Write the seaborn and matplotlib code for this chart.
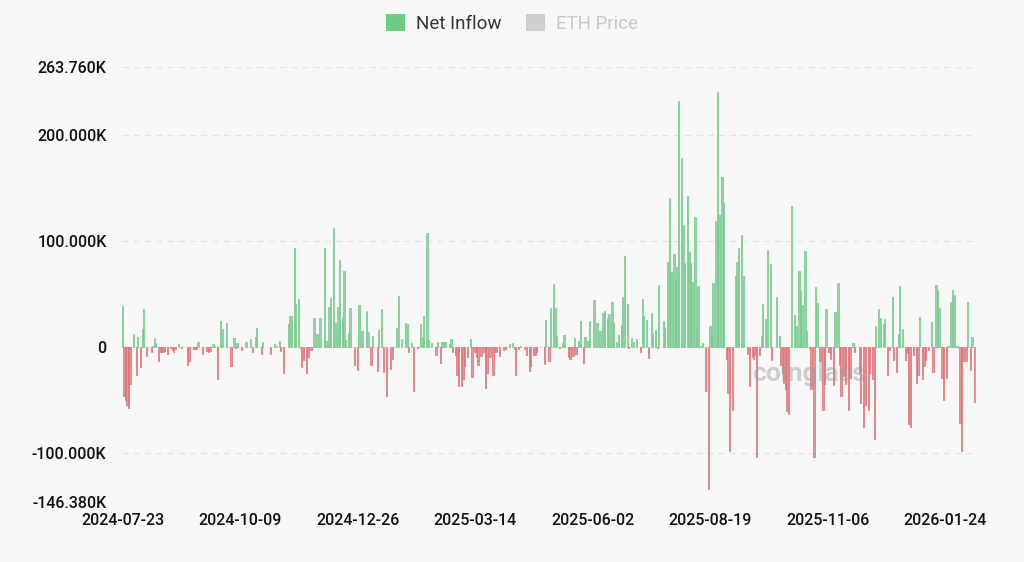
import numpy as np
import pandas as pd
import seaborn as sns
import matplotlib.pyplot as plt
from matplotlib.patches import Patch

# Net inflow (thousands), keyed by day offset from 2024-07-23; days not listed are 0
seg1_days = [0, 1, 2, 3, 4, 5, 7, 9, 10, 12, 13, 14, 16, 19, 20, 21, 22, 24, 25, 26, 27, 28,
             30, 32, 33, 34, 35, 37, 39, 43, 44, 47, 48, 49, 50, 53, 56, 57, 58, 60, 61, 63, 65, 66]
seg1_vals = [38, -47, -50, -55, -58, -35, 12, -27, 9, -19, 17, 35, -9, -5, 1, 8, 3, -14, -5, -5, -5, -4,
             -7, -1, -3, -5, -2, 2, -1, -17, -14, -2, -2, -2, 4, -7, -4, -5, -4, 2, 1, -31, 24, 17]

seg2_days = [69, 72, 74, 75, 76, 79, 82, 85, 86, 88, 89, 92, 93, 98, 101, 102, 104, 105, 107, 110,
             111, 112, 114, 115, 117, 118, 119, 120, 122, 123, 125, 127, 129, 131, 134, 135, 137, 138, 140]
seg2_vals = [22, -18, 8, -1, 3, -3, 4, 7, -5, 9, 18, -7, 4, -7, 2, 1, 5, -4, -25, 21,
             29, 29, 93, 40, 45, -1, -19, -13, -25, -10, -3, 27, 12, 27, 93, 5, 37, 46, 112]

seg3_days = [141, 143, 144, 146, 147, 148, 150, 151, 154, 156, 157, 159, 162, 163, 165, 166, 169, 170,
             172, 173, 175, 178, 179, 182, 183, 185, 188, 189, 190, 192, 193, 196, 198, 199, 200, 202,
             203, 205, 208, 209, 211, 212, 213]
seg3_vals = [22, 37, 82, 28, 71, 6, 13, 36, -17, -22, 39, 15, 34, 14, -17, 10, -23, 16,
             35, -24, -47, -21, -12, 18, 48, 7, 22, 21, -5, 3, -42, -1, 21, 9, 29, 107,
             6, 3, -8, 4, -15, 4, 4]

seg4_days = [214, 217, 218, 219, 221, 222, 223, 225, 226, 227, 229, 231, 232, 234, 235, 236, 238, 240,
             241, 242, 244, 246, 247, 248, 250, 253, 254, 257, 259, 260, 261, 263, 264, 267, 268, 270,
             271, 273, 274, 275, 280, 281, 283, 284, 286]
seg4_vals = [4, 2, 7, -5, -8, -27, -37, -37, -31, -18, -10, 7, -29, -5, -10, -17, -9, -5,
             -39, -25, -10, -27, -5, -5, -9, -3, -2, 2, 3, -2, -27, -2, 1, -2, -8, -23,
             -18, -8, -8, -5, -16, 25, -14, 36, 59]

seg5_days = [287, 288, 290, 292, 293, 296, 297, 299, 300, 301, 303, 304, 306, 307, 309, 310, 313, 315,
             317, 319, 320, 322, 323, 325, 326, 328, 329, 331, 332, 333, 335, 336, 338, 339, 341, 344,
             345, 346, 348, 349, 351, 352, 354, 355, 356, 359]
seg5_vals = [36, 10, -1, 3, 11, -10, -12, -9, 8, -7, 5, 24, -15, 9, 5, 24, 44, 22,
             15, 32, 34, 27, 31, 42, 22, 4, 11, 20, 47, 85, 40, -1, 8, 4, 7, -5,
             45, 29, 25, -11, 32, 13, 16, -1, 58, 24]

seg6_days = [360, 362, 363, 364, 366, 367, 368, 369, 371, 372, 373, 375, 376, 377, 378, 380, 381, 382,
             384, 385, 387, 389, 390, 391, 392, 394, 395, 396, 398, 399, 401, 402, 403, 405, 407, 408,
             409, 411, 412, 415, 416, 418, 419, 420, 421, 423, 424, 425, 427, 428, 430, 431]
seg6_vals = [18, 80, 140, 70, 87, 63, 75, 232, 178, 115, 79, 142, 89, 79, 61, 122, 17, 57,
             1, 3, -42, -134, 19, 9, 60, 118, 240, 124, 160, 135, -12, -44, -98, -60, 67, 80,
             93, 105, 67, -7, -37, -10, -12, -8, -104, -8, 10, 40, 26, 91, 78, -13]

seg7_days = [434, 436, 437, 438, 439, 440, 441, 442, 444, 446, 447, 449, 450, 451, 453, 454, 456, 457,
             459, 460, 461, 463, 465, 466, 467, 469, 470, 472, 473, 475, 476, 477, 479, 480, 482, 483,
             485, 486, 489, 490, 492, 493, 495, 496, 498, 499, 500, 502, 503, 505]
seg7_vals = [47, 10, -17, -25, -34, -40, -61, -64, 133, 30, 19, 71, 52, 39, 90, 15, -1, -40,
             -104, 56, 41, -14, -60, -35, 35, -5, -12, -36, 33, 60, -17, -47, -28, -35, -60, -30,
             3, -5, -25, -53, -76, -55, -60, -25, -31, -87, 19, 35, 27, 21]

seg8_days = [506, 508, 509, 511, 512, 514, 515, 516, 518, 520, 521, 522, 523, 525, 527, 528, 529, 531,
             532, 533, 535, 537, 538, 540, 541, 542, 544, 545, 547, 548, 550, 551, 552, 554, 556, 557,
             558, 560, 561, 563, 564, 566]
seg8_vals = [26, -27, -3, 47, -13, -24, 12, 57, 17, -13, -6, -73, -76, -8, -34, -27, 28, -31,
             -18, -13, -3, 23, -24, 58, 53, 36, -30, -50, -30, 1, 42, 53, 49, 1, -72, -98,
             -14, -14, 42, -22, 9, -52]

n_days = 567
tick_every = 78
tick_labels = ["2024-07-23", "2024-10-09", "2024-12-26", "2025-03-14",
               "2025-06-02", "2025-08-19", "2025-11-06", "2026-01-24"]
y_ticks = [-146.38, -100, 0, 100, 200, 263.76]
y_tick_labels = ["-146.380K", "-100.000K", "0", "100.000K", "200.000K", "263.760K"]

GREEN = "#8fd9a5"
GREEN_EDGE = "#6fcc88"
RED = "#ef8a8f"
RED_EDGE = "#e26a70"
BG = "#f8f8f8"


def build_frame():
    flows = np.zeros(n_days)
    segments = [(seg1_days, seg1_vals), (seg2_days, seg2_vals), (seg3_days, seg3_vals),
                (seg4_days, seg4_vals), (seg5_days, seg5_vals), (seg6_days, seg6_vals),
                (seg7_days, seg7_vals), (seg8_days, seg8_vals)]
    for days, vals in segments:
        flows[days] = vals
    df = pd.DataFrame({"day": np.arange(n_days), "flow": flows})
    df["side"] = np.where(df["flow"] < 0, "out", "in")
    return df


def main():
    df = build_frame()
    sns.set_theme(style="white")
    plt.rcParams["font.family"] = ["Roboto", "DejaVu Sans"]

    fig = plt.figure(figsize=(10.24, 5.62), dpi=100, facecolor=BG)
    ax = fig.add_axes([0.119, 0.107, 0.834, 0.774], facecolor=BG)

    ax.grid(axis="y", color="#e4e4e4", linestyle=(0, (5, 4)), linewidth=0.9, zorder=0)
    sns.barplot(data=df, x="day", y="flow", hue="side", hue_order=["in", "out"],
                palette={"in": GREEN, "out": RED}, dodge=False, width=0.85,
                linewidth=0, legend=False, ax=ax, zorder=3)
    # darker outline like the original bars
    for bar in ax.patches:
        h = bar.get_height()
        if h == 0:
            continue
        bar.set_edgecolor(GREEN_EDGE if h > 0 else RED_EDGE)
        bar.set_linewidth(0.5)

    ax.set_ylim(y_ticks[0], y_ticks[-1])
    ax.set_xlim(-0.5, n_days - 0.5)
    ax.set_yticks(y_ticks)
    ax.set_yticklabels(y_tick_labels, fontsize=11.5, color="#111111", fontweight="medium")
    ax.set_xticks(np.arange(0, n_days, tick_every)[:len(tick_labels)])
    ax.set_xticklabels(tick_labels, fontsize=11.5, color="#111111", fontweight="medium")
    ax.tick_params(axis="y", length=0, pad=11)
    ax.tick_params(axis="x", length=0, pad=8)
    ax.set_xlabel("")
    ax.set_ylabel("")
    for s in ax.spines.values():
        s.set_visible(False)

    # watermark
    fig.text(0.79, 0.335, "coinglass", fontsize=19, color="#9a9a9a", alpha=0.45,
             ha="center", va="center", fontweight="bold")

    handles = [Patch(facecolor="#6ccb85", edgecolor="none"),
               Patch(facecolor="#cfcfcf", edgecolor="none")]
    leg = fig.legend(handles, ["Net Inflow", "ETH Price"], loc="center",
                     bbox_to_anchor=(0.5, 0.958), ncol=2, frameon=False,
                     fontsize=13.5, handlelength=1.0, handleheight=1.0,
                     handletextpad=0.6, columnspacing=1.3)
    leg.get_texts()[0].set_color("#333333")
    leg.get_texts()[1].set_color("#c8c8c8")

    fig.savefig("out.png", dpi=100, facecolor=BG)


if __name__ == "__main__":
    main()
